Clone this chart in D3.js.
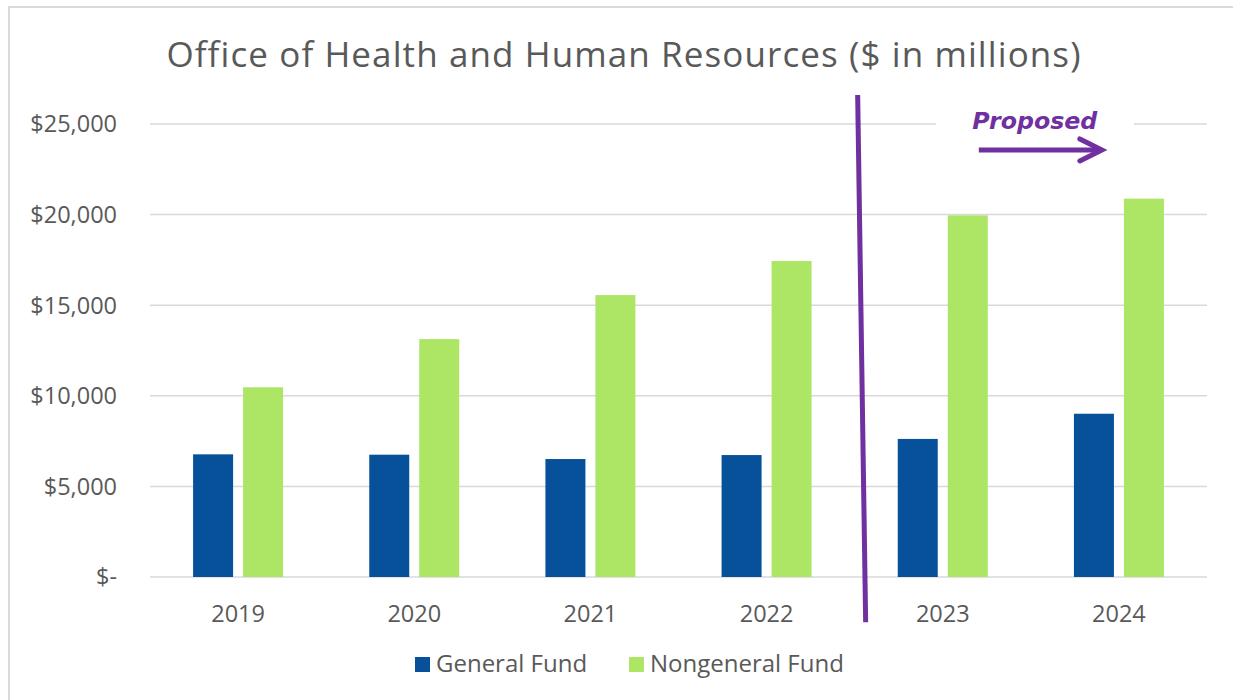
<!DOCTYPE html>
<html>
<head>
<meta charset="utf-8">
<script src="https://cdn.jsdelivr.net/npm/d3@7"></script>
<style>
	body { margin: 0; background: #fff; }
	text { font-family: "Open Sans", sans-serif; fill: #595959; }
</style>
</head>
<body>
<script>
// data
var years = ['2019', '2020', '2021', '2022', '2023', '2024'];
var seriesNames = ['General Fund', 'Nongeneral Fund'];
var generalFund = [6770, 6750, 6510, 6730, 7620, 9010];
var nongeneralFund = [10470, 13130, 15560, 17440, 19960, 20880];
var yTicks = [0, 5000, 10000, 15000, 20000, 25000];
var proposedFrom = '2023';

var colors = ['#07519B', '#ADE665'];
var purple = '#7030A0';

var W = 1233, H = 700;
var margin = { top: 124, right: 26, bottom: 123, left: 150 };

var svg = d3.select('body').append('svg')
	.attr('width', W)
	.attr('height', H);

// chart frame
svg.append('rect')
	.attr('x', 9)
	.attr('y', 7)
	.attr('width', W + 20)
	.attr('height', H + 20)
	.style('fill', 'none')
	.style('stroke', '#D9D9D9')
	.style('stroke-width', 2);

var x = d3.scaleBand().domain(years).range([margin.left, W - margin.right]),
	y = d3.scaleLinear().domain([0, 25000]).range([H - margin.bottom, margin.top]);

var x1 = d3.scaleBand().domain(seriesNames).range([-45, 45]).paddingInner(0.2);

// gridlines
svg.append('g')
	.selectAll('line')
	.data(yTicks)
	.enter().append('line')
		.attr('x1', margin.left)
		.attr('x2', W - margin.right)
		.attr('y1', function(d) { return y(d); })
		.attr('y2', function(d) { return y(d); })
		.style('stroke', '#D9D9D9')
		.style('stroke-width', 1.5);

// y axis labels
svg.append('g')
	.selectAll('text')
	.data(yTicks)
	.enter().append('text')
		.attr('x', 117)
		.attr('y', function(d) { return y(d); })
		.attr('dy', '0.36em')
		.attr('text-anchor', 'end')
		.style('font-size', '23.5px')
		.text(function(d) { return d === 0 ? '$-' : '$' + d3.format(',')(d); });

// x axis labels
svg.append('g')
	.selectAll('text')
	.data(years)
	.enter().append('text')
		.attr('x', function(d) { return x(d) + x.bandwidth() / 2; })
		.attr('y', y(0) + 45)
		.attr('text-anchor', 'middle')
		.style('font-size', '23.5px')
		.text(function(d) { return d; });

// bars
var rows = years.map(function(yr, i) {
	return { year: yr, values: [generalFund[i], nongeneralFund[i]] };
});

var groups = svg.append('g')
	.selectAll('g')
	.data(rows)
	.enter().append('g')
		.attr('transform', function(d) {
			return 'translate(' + (x(d.year) + x.bandwidth() / 2) + ',0)';
		});

groups.selectAll('rect')
	.data(function(d) { return d.values; })
	.enter().append('rect')
		.attr('x', function(d, i) { return x1(seriesNames[i]); })
		.attr('width', x1.bandwidth())
		.attr('y', function(d) { return y(d); })
		.attr('height', function(d) { return y(0) - y(d); })
		.style('fill', function(d, i) { return colors[i]; });

// proposed divider
var divX = x(proposedFrom);
svg.append('line')
	.attr('x1', divX + 3)
	.attr('y1', y(26600))
	.attr('x2', divX + 11)
	.attr('y2', y(-2500))
	.style('stroke', purple)
	.style('stroke-width', 5);

// proposed label with white box
var midX = (x('2023') + x('2024') + x.bandwidth()) / 2 + 4;
svg.append('rect')
	.attr('x', midX - 99)
	.attr('y', y(25000) - 22)
	.attr('width', 198)
	.attr('height', 30)
	.style('fill', '#fff');

svg.append('text')
	.attr('x', midX)
	.attr('y', y(25000) + 5)
	.attr('text-anchor', 'middle')
	.style('font-family', '"DejaVu Sans", Verdana, sans-serif')
	.style('font-weight', 'bold')
	.style('font-style', 'italic')
	.style('font-size', '23.7px')
	.style('fill', purple)
	.text('Proposed');

var arrowY = y(23570);
svg.append('line')
	.attr('x1', midX - 56)
	.attr('x2', midX + 64)
	.attr('y1', arrowY)
	.attr('y2', arrowY)
	.style('stroke', purple)
	.style('stroke-width', 5);

svg.append('path')
	.attr('d', 'M' + (midX + 45) + ',' + (arrowY - 11) +
		'L' + (midX + 67) + ',' + arrowY +
		'L' + (midX + 45) + ',' + (arrowY + 11))
	.style('fill', 'none')
	.style('stroke', purple)
	.style('stroke-width', 5)
	.style('stroke-linecap', 'round')
	.style('stroke-linejoin', 'miter');

// title
svg.append('text')
	.attr('x', 624)
	.attr('y', 67)
	.attr('text-anchor', 'middle')
	.style('font-size', '35px')
	.style('letter-spacing', '1.1px')
	.text('Office of Health and Human Resources ($ in millions)');

// legend
var legend = svg.append('g')
	.attr('transform', 'translate(415,657)');

var legendX = [0, 214];
seriesNames.forEach(function(name, i) {
	var g = legend.append('g').attr('transform', 'translate(' + legendX[i] + ',0)');
	g.append('rect')
		.attr('width', 15)
		.attr('height', 15)
		.style('fill', colors[i]);
	g.append('text')
		.attr('x', 21)
		.attr('y', 15)
		.style('font-size', '24px')
		.text(name);
});
</script>
</body>
</html>
